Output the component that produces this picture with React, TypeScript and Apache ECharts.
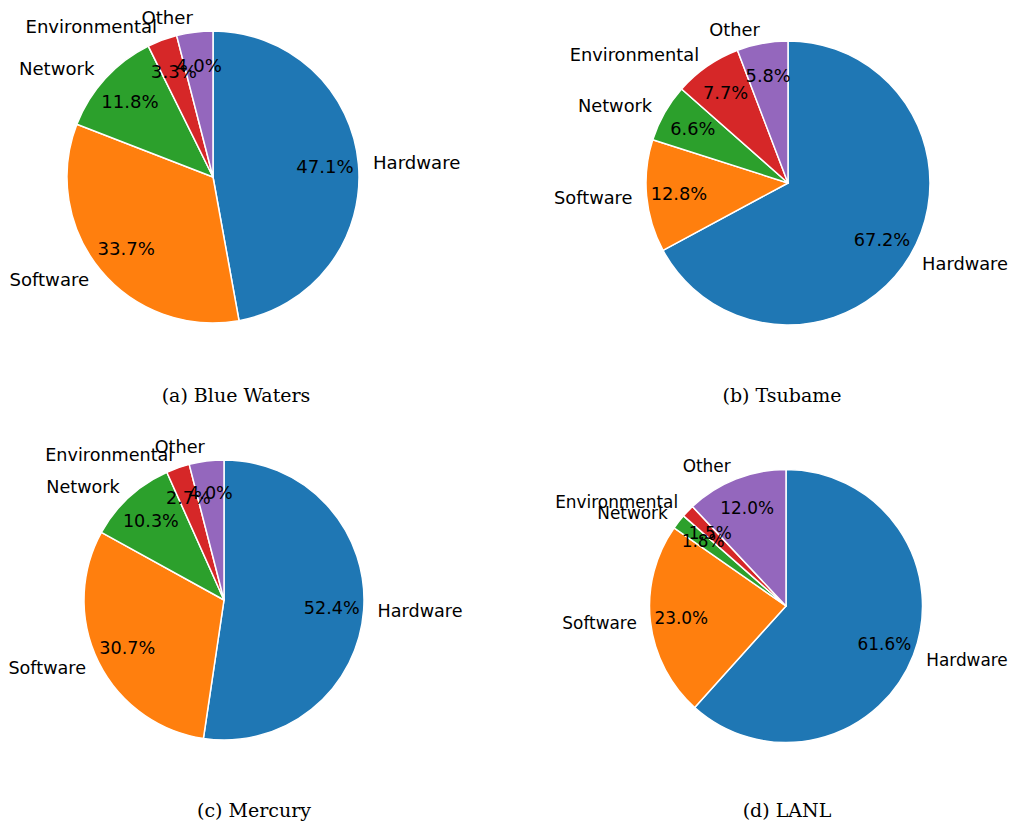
import React, { useEffect, useRef } from "react";
import * as echarts from "echarts";

const categories = ["Hardware", "Software", "Network", "Environmental", "Other"];
const colors = ["#1f77b4", "#ff7f0e", "#2ca02c", "#d62728", "#9467bd"];
const blueWaters = [47.1, 33.7, 11.8, 3.3, 4.0];
const tsubame = [67.2, 12.8, 6.6, 7.7, 5.8];
const mercury = [52.4, 30.7, 10.3, 2.7, 4.0];
const lanl = [61.6, 23.0, 1.8, 1.5, 12.0];
const captions = ["(a) Blue Waters", "(b) Tsubame", "(c) Mercury", "(d) LANL"];

const pies = [
  { values: blueWaters, center: [213, 177], r: 146, fs: 18.1, cap: [236, 395] },
  { values: tsubame, center: [788, 183], r: 142, fs: 17.8, cap: [782, 395] },
  { values: mercury, center: [224, 600], r: 140, fs: 17.6, cap: [254, 810] },
  { values: lanl, center: [786, 606], r: 136.5, fs: 16.9, cap: [787, 810] },
];

const FONT = "DejaVu Sans";

export default function App() {
  const ref = useRef<HTMLDivElement>(null);
  useEffect(() => {
    document.body.style.margin = "0";
    const chart = echarts.init(ref.current!, null, { renderer: "svg" });
    const series: any[] = [];
    pies.forEach((p) => {
      const data = categories.map((c, i) => ({
        name: c,
        value: p.values[i],
        itemStyle: { color: colors[i] },
      }));
      series.push({
        type: "pie",
        center: p.center,
        radius: [0, p.r],
        startAngle: 90,
        clockwise: true,
        avoidLabelOverlap: false,
        silent: true,
        labelLayout: { hideOverlap: false },
        itemStyle: { borderColor: "#ffffff", borderWidth: 1.5 },
        label: {
          show: true,
          position: "outer",
          formatter: "{b}",
          color: "#000",
          fontFamily: FONT,
          fontSize: p.fs,
          distanceToLabelLine: 0,
        },
        labelLine: { show: false, length: p.r * 0.1, length2: 0 },
        data,
      });
      series.push({
        type: "pie",
        center: p.center,
        radius: [p.r * 0.5, p.r],
        startAngle: 90,
        clockwise: true,
        avoidLabelOverlap: false,
        silent: true,
        labelLayout: { hideOverlap: false },
        itemStyle: { color: "rgba(0,0,0,0)", borderWidth: 0 },
        label: {
          show: true,
          position: "inside",
          formatter: (q: any) => q.value.toFixed(1) + "%",
          color: "#000",
          fontFamily: FONT,
          fontSize: p.fs,
        },
        labelLine: { show: false },
        data: categories.map((c, i) => ({ name: c, value: p.values[i] })),
      });
    });
    chart.setOption({
      animation: false,
      backgroundColor: "#ffffff",
      series,
      graphic: pies.map((p, i) => ({
        type: "text",
        x: p.cap[0],
        y: p.cap[1],
        style: {
          text: captions[i],
          align: "center",
          verticalAlign: "middle",
          fontFamily: "DejaVu Serif",
          fontSize: 19,
          fill: "#000",
        },
      })),
    });
    return () => chart.dispose();
  }, []);
  return <div ref={ref} style={{ width: 1009, height: 826 }} />;
}
